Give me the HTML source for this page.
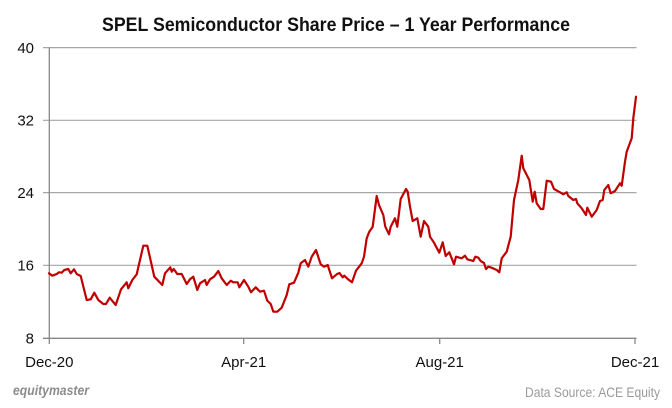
<!DOCTYPE html>
<html><head><meta charset="utf-8"><style>
html,body{margin:0;padding:0;background:#fff;}
svg{display:block;font-family:"Liberation Sans",Arial,sans-serif;}
</style></head><body>
<svg width="672" height="408" viewBox="0 0 672 408" xmlns="http://www.w3.org/2000/svg">
<rect width="672" height="408" fill="#fff"/>
<text x="336" y="31" text-anchor="middle" font-size="19" font-weight="bold" fill="#111" textLength="468" lengthAdjust="spacingAndGlyphs">SPEL Semiconductor Share Price – 1 Year Performance</text>
<g stroke="#a6a6a6" stroke-width="1.2">
<line x1="43" y1="47.6" x2="636.5" y2="47.6"/>
<line x1="43" y1="120.3" x2="636.5" y2="120.3"/>
<line x1="43" y1="192.6" x2="636.5" y2="192.6"/>
<line x1="43" y1="265.3" x2="636.5" y2="265.3"/>
</g>
<g stroke="#888" stroke-width="1.3">
<line x1="43" y1="338.3" x2="636.5" y2="338.3"/>
<line x1="49.3" y1="47.6" x2="49.3" y2="344"/>
<line x1="243.7" y1="338.3" x2="243.7" y2="344"/>
<line x1="439.7" y1="338.3" x2="439.7" y2="344"/>
<line x1="635" y1="338.3" x2="635" y2="344"/>
</g>
<g font-size="15" fill="#111" text-anchor="end">
<text x="34" y="53">40</text>
<text x="34" y="125.5">32</text>
<text x="34" y="198">24</text>
<text x="34" y="270.5">16</text>
<text x="34" y="343.5">8</text>
</g>
<g font-size="15" fill="#111" text-anchor="middle">
<text x="49.3" y="367">Dec-20</text>
<text x="243.7" y="367">Apr-21</text>
<text x="439.7" y="367">Aug-21</text>
<text x="635" y="367">Dec-21</text>
</g>
<polyline fill="none" stroke="#c00000" stroke-width="2.2" stroke-linejoin="round" stroke-linecap="round" points="49,273.3 52.3,275.7 56.7,274 59,272.3 61.7,272.7 64.3,270 68.3,269 70.7,273.3 74,269.3 76.7,274 80.7,276 86.7,300 90.7,299.3 94.3,292.7 98.3,300 103.3,304 106,304 109.7,297.7 115.7,305 121,289.3 126.7,282.3 128.3,288.3 132.3,280 136.7,274.3 143.3,245.7 147.3,245.7 154.3,276.7 162.3,285 165,273.3 170.3,267.3 171.7,271.7 173.7,269 177.3,274 181.7,274 186.7,284 190,279.3 193.3,276.7 197.3,290 200,283.3 205,280 206.7,285 210,279.3 214,276.7 218.3,271 221.7,278.3 226.7,285 230.7,280.7 233.3,282.3 237.7,282.3 239.3,287.3 244,280 248.3,286.7 251,292.3 255.7,287.3 260,291.7 264,290.7 267.3,300.7 270.7,304 273.3,311.7 277.3,311.7 281.7,307.7 286.7,295 289.3,284.3 294,282.7 298.3,272.7 300.7,263.3 305,260 308.3,266.7 311.7,256.7 316,250 320.7,264.3 324,266.7 327.7,265 332,278.3 336.7,274.3 339.5,273 342.7,277.3 344.3,275.7 347.7,279 352,282.3 356,270.7 361.7,263.3 364,256.7 366.7,238.3 369.3,231.7 372.7,226.7 376.7,196 379,205 383.3,215 385.3,226.7 389,234.3 390.7,226.7 395,218.3 397.3,226.7 400.7,199 406,189 407.7,191.7 410,206.7 412.7,221 417.3,218.3 420.7,236.7 424,221 428.3,226.7 430,236.7 434,242.7 439.3,252.7 442.7,242.3 445.7,256 449.3,252.3 454,264.3 456,256.7 461.7,258.3 465,255.7 467.3,259.3 473.3,261 475.3,256.7 478.3,257.7 480.7,261 484,263 486,269 488.3,266.7 491.7,267.7 496.7,270 499.3,272.3 501.7,258.3 506.7,251.7 510.7,236.7 514,200 518.3,180 521.7,155.7 523.3,168.3 529.3,180 532.7,201.7 534.7,191.7 536.7,203.3 540.7,209 543.3,209 546.7,180.7 551,181.7 554,189 560,192.3 563.3,194.3 566.7,192.3 568.3,196 573.3,200 576,199 577.3,203.3 581.7,208.3 586,215 587.3,207.7 591.7,216.7 596.7,210 600,201 602.7,200 604.3,190 608.3,185 610.7,193.3 615,191 620,183.3 621.7,185.7 625,161.7 626.7,151.7 631.7,138.3 633.3,118.3 636,96.7"/>
<text x="13" y="395" font-size="14" font-weight="bold" font-style="italic" fill="#8c8c8c" textLength="76" lengthAdjust="spacingAndGlyphs">equitymaster</text>
<text x="660" y="397" font-size="14" fill="#9a9a9a" text-anchor="end" textLength="135" lengthAdjust="spacingAndGlyphs">Data Source: ACE Equity</text>
</svg>
</body></html>
